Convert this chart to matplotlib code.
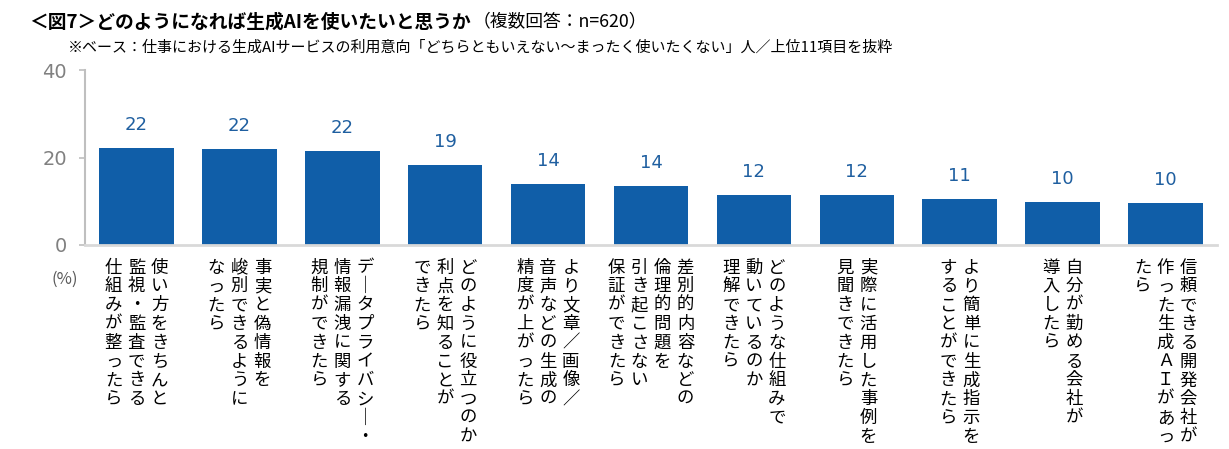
import matplotlib
matplotlib.use('Agg')
import matplotlib.pyplot as plt
from matplotlib.transforms import offset_copy

# ---- data ----
categories = [
    ["使い方をきちんと", "監視・監査できる", "仕組みが整ったら"],
    ["事実と偽情報を", "峻別できるように", "なったら"],
    ["データプライバシー・", "情報漏洩に関する", "規制ができたら"],
    ["どのように役立つのか", "利点を知ることが", "できたら"],
    ["より文章／画像／", "音声などの生成の", "精度が上がったら"],
    ["差別的内容などの", "倫理的問題を", "引き起こさない", "保証ができたら"],
    ["どのような仕組みで", "動いているのか", "理解できたら"],
    ["実際に活用した事例を", "見聞きできたら"],
    ["より簡単に生成指示を", "することができたら"],
    ["自分が勤める会社が", "導入したら"],
    ["信頼できる開発会社が", "作った生成ＡＩがあっ", "たら"],
]
values = [22.2, 21.9, 21.5, 18.3, 13.9, 13.4, 11.4, 11.4, 10.6, 9.8, 9.6]
value_labels = ["22", "22", "22", "19", "14", "14", "12", "12", "11", "10", "10"]
yticks = [0, 20, 40]
ytick_labels = ["0", "20", "40"]
title_main = "＜図7＞どのようになれば生成AIを使いたいと思うか"
title_note = "（複数回答：n=620）"
subtitle = "※ベース：仕事における生成AIサービスの利用意向「どちらともいえない～まったく使いたくない」人／上位11項目を抜粋"
unit_label = "(%)"

JP = ['Noto Sans CJK JP', 'DejaVu Sans']
plt.rcParams['font.family'] = JP

W, H = 1229, 449
fig = plt.figure(figsize=(W / 100, H / 100), dpi=100)
ax = fig.add_axes([85 / W, (H - 245) / H, (1217 - 85) / W, 175 / H])

xs = list(range(len(values)))
ax.bar(xs, values, width=0.725, color='#105EA8')
ax.set_xlim(-0.5, len(values) - 0.5)
ax.set_ylim(0, 40)
ax.set_yticks(yticks)
ax.set_yticklabels(ytick_labels, fontfamily='DejaVu Sans')
ax.set_xticks([])
for s in ['top', 'right']:
    ax.spines[s].set_visible(False)
ax.spines['left'].set_color('#BFBFBF')
ax.spines['left'].set_linewidth(1.5)
ax.spines['bottom'].set_color('#D9D9D9')
ax.spines['bottom'].set_linewidth(2)
ax.tick_params(axis='y', length=4, width=1.2, color='#BFBFBF', pad=9,
               labelsize=14, labelcolor='#808080')

# value labels
for i, (v, lab) in enumerate(zip(values, value_labels)):
    ax.annotate(lab, (i, v), xytext=(0, 16.5), textcoords='offset points',
                ha='center', va='center', fontsize=13, color='#1F5FA0',
                fontfamily='DejaVu Sans')

# vertical category labels (vertical writing: long vowel mark shown as a vertical bar)
vertical_forms = {'ー': '｜'}
step_px = 18.8
col_px = 23
top_px = 22.5
for i, cols in enumerate(categories):
    n = len(cols)
    for j, col in enumerate(cols):
        dx = ((n - 1) / 2 - j) * col_px
        for k, ch in enumerate(col):
            tr = offset_copy(ax.transData, fig=fig, x=dx,
                             y=-(top_px + k * step_px), units='dots')
            ax.text(i, 0, vertical_forms.get(ch, ch), transform=tr,
                    ha='center', va='center', fontsize=12.5,
                    color='#000000', clip_on=False)

fig.text(65 / W, 1 - 279 / H, unit_label, ha='center', va='center',
         color='#595959', fontsize=12)

# titles
t1 = fig.text(29 / W, 1 - 22 / H, title_main, fontsize=13.5, fontweight='bold',
              va='center', ha='left', color='#000000')
fig.canvas.draw()
bb = t1.get_window_extent(renderer=fig.canvas.get_renderer())
fig.text(bb.x1 / W + 2 / W, 1 - 22 / H, title_note, fontsize=12.8,
         va='center', ha='left', color='#000000')
fig.text(68 / W, 1 - 47 / H, subtitle, fontsize=10.8, va='center', ha='left',
         color='#000000')

fig.savefig('out.png', dpi=100)
